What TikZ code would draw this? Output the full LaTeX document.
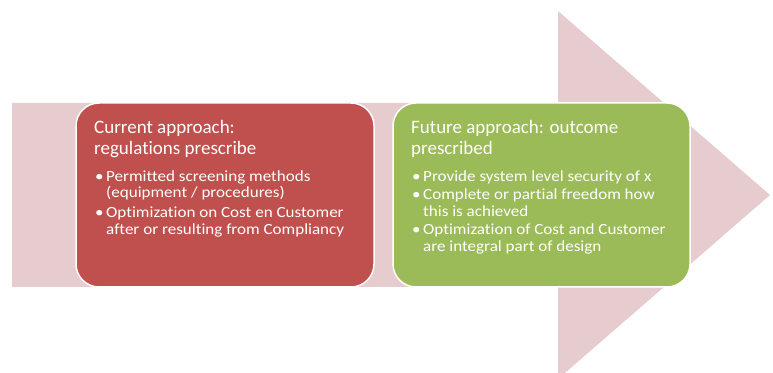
\documentclass[tikz,border=0pt]{standalone}
\usepackage{fontspec}
\setmainfont{Carlito}[Ligatures=NoCommon]
\newfontfamily\bodyfont[FakeStretch=1.1,Ligatures=NoCommon]{Carlito}
\newfontfamily\headfont[FakeStretch=1.0,Ligatures=NoCommon]{Carlito}
\definecolor{arrowpink}{RGB}{230,204,207}
\definecolor{boxred}{RGB}{192,80,77}
\definecolor{boxgreen}{RGB}{155,187,89}
\begin{document}
\begin{tikzpicture}[x=1pt,y=1pt,
  title/.style={anchor=base west,inner sep=0pt,text=white,font=\headfont\fontsize{19}{22}\selectfont},
  item/.style={anchor=base west,inner sep=0pt,text=white,font=\bodyfont\fontsize{15.5}{17}\selectfont},
  dot/.style={anchor=base west,inner sep=0pt,text=white,font=\bodyfont\fontsize{15.5}{17}\selectfont}]
\useasboundingbox (0,0) rectangle (773,372);
% big arrow
\fill[arrowpink] (12,269) -- (558,269) -- (558,361) -- (770,177) -- (558,-7) -- (558,85) -- (12,85) -- cycle;
% boxes
\path[fill=boxred,draw=white,line width=1.5pt,rounded corners=23pt] (76,85) rectangle (374,269);
\node[coordinate] (red) at (225,177) {};
\path[fill=boxgreen,draw=white,line width=1.5pt,rounded corners=23pt] (393,85) rectangle (690,269);
\node[coordinate] (green) at (541,177) {};
% red text
\node[title] (r1) at (94,238) {Current approach:};
\node[title] (r2) at (94,217) {regulations prescribe};
\node[dot] (rb1) at (95,190) {•};
\node[item] (r3) at (106,190) {Permitted screening methods};
\node[item] (r4) at (106,174) {(equipment / procedures)};
\node[dot] (rb2) at (95,154) {•};
\node[item] (r5) at (106,154) {Optimization on Cost en Customer};
\node[item] (r6) at (106,137) {after or resulting from Compliancy};
% green text
\node[title] (g1) at (411,238) {Future approach: outcome};
\node[title] (g2) at (411,217) {prescribed};
\node[dot] (gb1) at (412,190) {•};
\node[item] (g3) at (423,190) {Provide system level security of x};
\node[dot] (gb2) at (412,172) {•};
\node[item] (g4) at (423,172) {Complete or partial freedom how};
\node[item] (g5) at (423,155) {this is achieved};
\node[dot] (gb3) at (412,137) {•};
\node[item] (g6) at (423,137) {Optimization of Cost and Customer};
\node[item] (g7) at (423,120) {are integral part of design};
\end{tikzpicture}
\end{document}
